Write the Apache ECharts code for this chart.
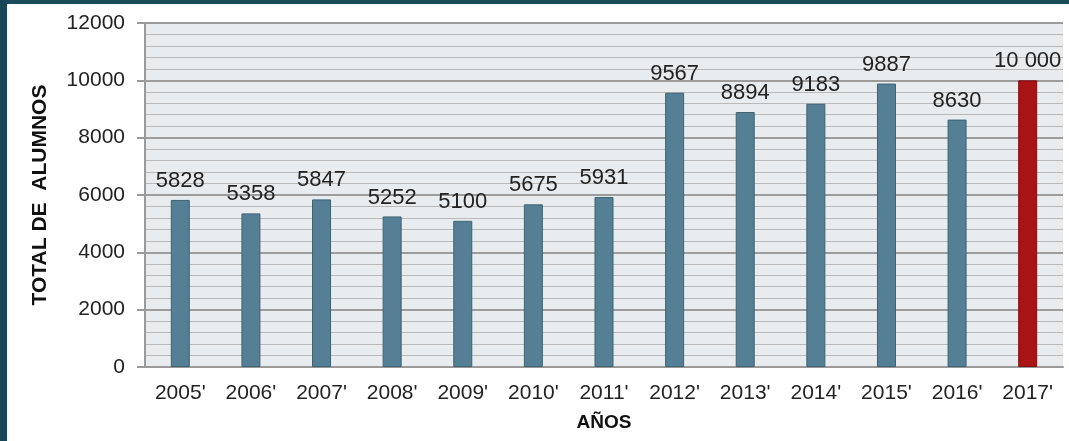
<!DOCTYPE html>
<html>
<head>
<meta charset="utf-8">
<script src="https://cdn.jsdelivr.net/npm/echarts@6/dist/echarts.min.js"></script>
<style>
  html, body { margin: 0; padding: 0; background: #fff; }
  #marco {
    width: 1069px; height: 441px; box-sizing: border-box;
    border-left: 7px solid #17485a; border-top: 4px solid #1a4b5b;
  }
  #chartContainer { width: 1062px; height: 437px; }
</style>
</head>
<body>
<div id="marco"><div id="chartContainer"></div></div>
<script>
// Datos del gráfico
const years = ['2005\'', '2006\'', '2007\'', '2008\'', '2009\'', '2010\'', '2011\'',
  '2012\'', '2013\'', '2014\'', '2015\'', '2016\'', '2017\''];
const students = [5828, 5358, 5847, 5252, 5100, 5675, 5931, 9567, 8894, 9183, 9887, 8630, 10000];
const valueLabels = ['5828', '5358', '5847', '5252', '5100', '5675', '5931',
  '9567', '8894', '9183', '9887', '8630', '10 000'];
const yTicks = [0, 2000, 4000, 6000, 8000, 10000, 12000];

const fuente = 'Liberation Sans, Arial, sans-serif';

// Barras: la última (2017) va en rojo
const barData = students.map(function (v, i) {
  const last = i === students.length - 1;
  return {
    value: v,
    itemStyle: last
      ? { color: '#a91414', borderColor: '#7d0f0f', borderWidth: 1 }
      : { color: '#547f95', borderColor: '#3d6273', borderWidth: 1 }
  };
});

const chart = echarts.init(document.getElementById('chartContainer'));

chart.setOption({
  animation: false,
  textStyle: { fontFamily: fuente },
  grid: {
    left: 138, right: 6, top: 19, bottom: 74,
    show: true, backgroundColor: '#e9ecef', borderWidth: 0
  },
  xAxis: {
    type: 'category',
    data: years,
    name: 'AÑOS',
    nameLocation: 'middle',
    nameGap: 46,
    nameTextStyle: { fontFamily: fuente, fontWeight: 'bold', fontSize: 19, color: '#111' },
    axisLine: { lineStyle: { color: '#9a9a9a', width: 2 } },
    axisTick: { show: false },
    axisLabel: { fontSize: 21, color: '#222', margin: 16, interval: 0 }
  },
  yAxis: {
    type: 'value',
    min: yTicks[0],
    max: yTicks[yTicks.length - 1],
    interval: 2000,
    name: 'TOTAL DE  ALUMNOS',
    nameLocation: 'middle',
    nameGap: 94,
    nameTextStyle: { fontFamily: fuente, fontWeight: 'bold', fontSize: 21, color: '#111' },
    axisLine: { show: true, lineStyle: { color: '#9a9a9a', width: 2 } },
    axisTick: { show: true, length: 8, lineStyle: { color: '#9a9a9a', width: 2 } },
    axisLabel: {
      fontSize: 21, color: '#222', margin: 20,
      formatter: function (v) { return String(v); }
    },
    splitLine: { lineStyle: { color: '#9c9c9c', width: 2 } },
    minorTick: { show: false, splitNumber: 5 },
    minorSplitLine: { show: true, lineStyle: { color: '#b9b9b9', width: 1 } }
  },
  series: [{
    name: 'Alumnos',
    type: 'bar',
    data: barData,
    barWidth: 19,
    label: {
      show: true,
      position: 'top',
      distance: 8,
      fontSize: 22,
      color: '#222',
      formatter: function (p) { return valueLabels[p.dataIndex]; }
    }
  }]
});
</script>
</body>
</html>
